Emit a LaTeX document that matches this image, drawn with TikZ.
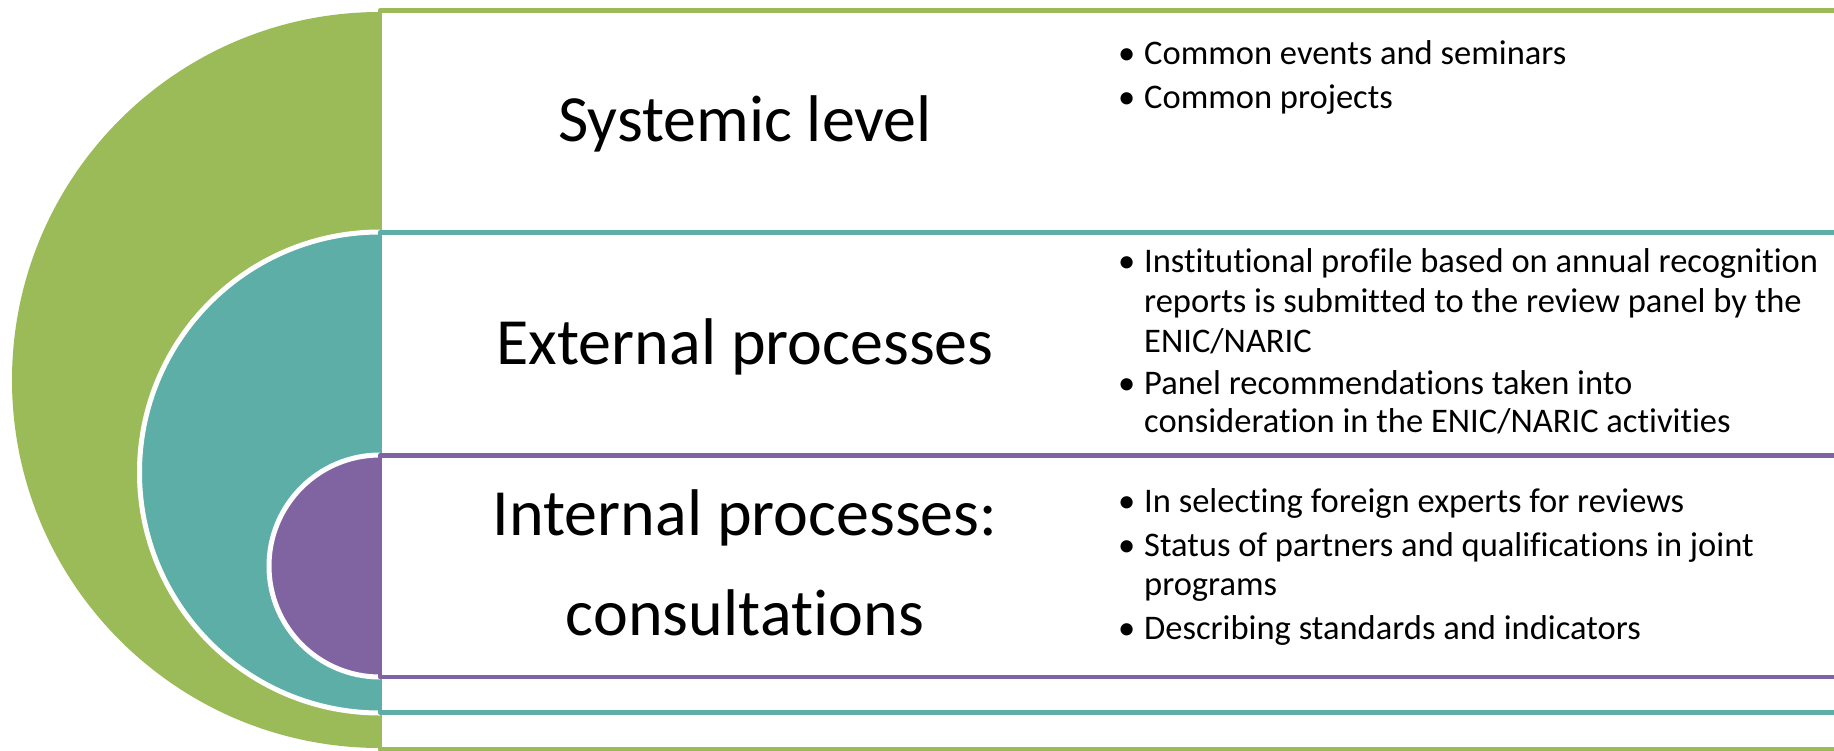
\documentclass[tikz,border=0pt]{standalone}
\usepackage{fontspec}
\setmainfont{Carlito}[Ligatures={NoCommon,NoContextual}]
\definecolor{cgreen}{HTML}{9BBB59}
\definecolor{cteal}{HTML}{5DAEA6}
\definecolor{cpurple}{HTML}{8064A2}
\newcommand{\bul}{\makebox[26pt][l]{•}}
\newcommand{\nolig}{\kern0pt }
\begin{document}
\begin{tikzpicture}[x=1pt,y=-1pt,
  band/.style={line width=4.5pt, fill=white, line join=round},
  half/.style={draw=white, line width=5pt},
  title/.style={font=\fontsize{66}{72}\selectfont, anchor=base, inner sep=0pt},
  item/.style={font=\fontsize{34.5}{39.5}\selectfont, anchor=base west, inner sep=0pt}]
\useasboundingbox (0,0) rectangle (1834,750);
\clip (0,0) rectangle (1834,750);
% green level
\begin{scope}
  \clip (0,0) rectangle (380,750);
  \fill[cgreen] (380,380) circle[radius=368pt];
\end{scope}
\draw[band, draw=cgreen] (380,10.5) rectangle (1900,749.5);
% teal level
\begin{scope}
  \clip (0,0) rectangle (380,750);
  \filldraw[half, fill=cteal] (380,472.5) circle[radius=240.5pt];
\end{scope}
\draw[band, draw=cteal] (380,232.5) rectangle (1900,712.5);
% purple level
\begin{scope}
  \clip (0,0) rectangle (380,750);
  \filldraw[half, fill=cpurple] (380,566) circle[radius=111pt];
\end{scope}
\draw[band, draw=cpurple] (380,455.5) rectangle (1900,677);
% titles
\node[title] (t1) at (745,141) {Systemic level};
\node[title] (t2) at (745,364) {External processes};
\node[title] (t3a) at (745,535) {Internal processes:};
\node[title] (t3b) at (745,635) {consult\nolig at\nolig ions};
% systemic items
\node[item] (s1) at (1118,64) {\bul Common events and seminars};
\node[item] (s2) at (1118,108) {\bul Common projects};
% external items
\node[item] (e1) at (1118,272) {\bul Inst\nolig itut\nolig ional prof\nolig ile based on annual recognit\nolig ion};
\node[item] (e1b) at (1144,312) {reports is submit\nolig ted to the review panel by the};
\node[item] (e1c) at (1144,352) {ENIC/NARIC};
\node[item] (e2) at (1118,394) {\bul Panel recommendat\nolig ions taken into};
\node[item] (e2b) at (1144,432) {considerat\nolig ion in the ENIC/NARIC act\nolig ivit\nolig ies};
% internal items
\node[item] (i1) at (1118,512) {\bul In select\nolig ing foreign experts for reviews};
\node[item] (i2) at (1118,556) {\bul Status of partners and qualif\nolig icat\nolig ions in joint};
\node[item] (i2b) at (1144,595) {programs};
\node[item] (i3) at (1118,639) {\bul Describing standards and indicators};
\end{tikzpicture}
\end{document}
